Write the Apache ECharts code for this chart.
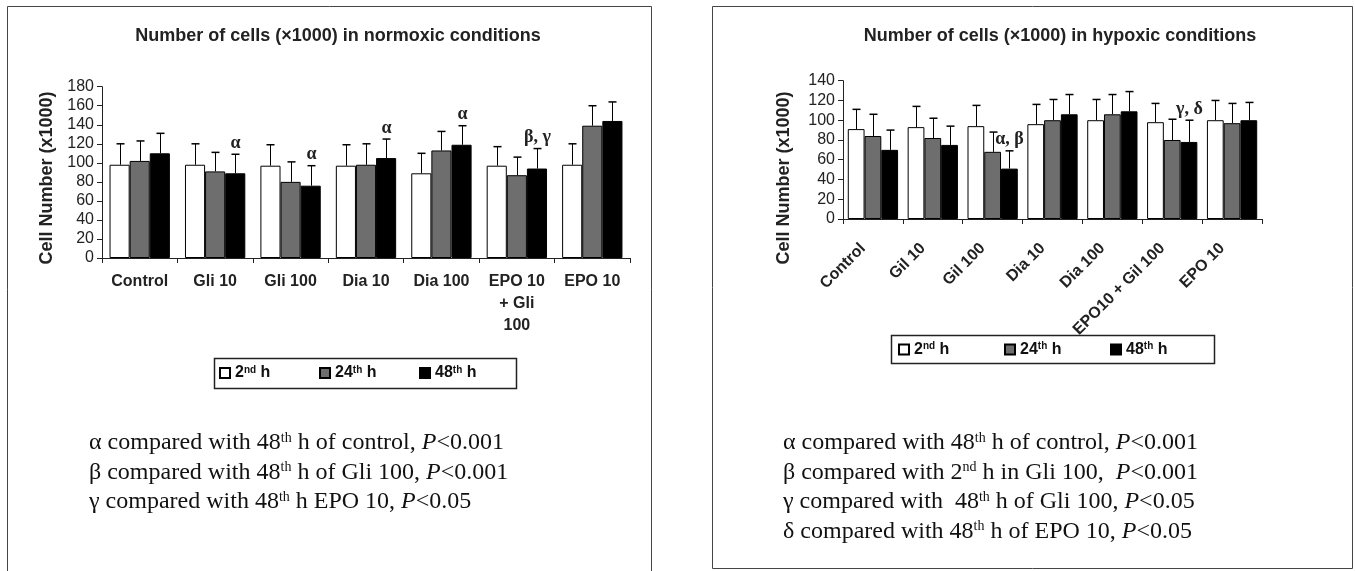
<!DOCTYPE html>
<html>
<head>
<meta charset="utf-8">
<title>Number of cells (×1000)</title>
<script src="https://cdn.jsdelivr.net/npm/echarts@6/dist/echarts.min.js"></script>
<style>
  html, body { margin: 0; padding: 0; background: #fff; }
  #chart { width: 1355px; height: 571px; }
</style>
</head>
<body>
<div id="chart"></div>
<script>
// categories on the two panels (the hypoxic panel spells it "Gil")
const normoxicCategories = ['Control', 'Gli 10', 'Gli 100', 'Dia 10', 'Dia 100', 'EPO 10\n+ Gli\n100', 'EPO 10'];
const hypoxicCategories = ['Control', 'Gil 10', 'Gil 100', 'Dia 10', 'Dia 100', 'EPO10 + Gil 100', 'EPO 10'];
const seriesNames = ['2nd h', '24th h', '48th h'];

// normoxic: mean and SD (x1000 cells)
const normoxic2h = [98, 98, 97, 97, 89, 97, 98];
const normoxic24h = [102, 91, 80, 98, 113, 87, 139];
const normoxic48h = [110, 89, 76, 105, 119, 94, 144];
const normoxic2hSD = [22, 22, 22, 22, 21, 20, 22];
const normoxic24hSD = [21, 20, 21, 22, 20, 19, 21];
const normoxic48hSD = [21, 20, 21, 20, 20, 21, 20];
const normoxicMarks = ['', 'α', 'α', 'α', 'α', 'β, γ', ''];

// hypoxic: mean and SD (x1000 cells)
const hypoxic2h = [91, 93, 94, 96, 100, 98, 100];
const hypoxic24h = [84, 82, 68, 100, 106, 80, 97];
const hypoxic48h = [70, 75, 51, 106, 109, 78, 100];
const hypoxic2hSD = [20, 21, 21, 20, 21, 19, 20];
const hypoxic24hSD = [22, 20, 20, 21, 20, 21, 20];
const hypoxic48hSD = [20, 19, 18, 20, 20, 22, 18];
const hypoxicMarks = ['', '', 'α, β', '', '', 'γ, δ', ''];

// y axis ticks: [min, max, step]
const normoxicTicks = [0, 180, 20];
const hypoxicTicks = [0, 140, 20];

const normoxicNotes = [
  'α compared with 48{sup|th} h of control, {i|P}<0.001',
  'β compared with 48{sup|th} h of Gli 100, {i|P}<0.001',
  'γ compared with 48{sup|th} h EPO 10, {i|P}<0.05'
];
const hypoxicNotes = [
  'α compared with 48{sup|th} h of control, {i|P}<0.001',
  'β compared with 2{sup|nd} h in Gli 100,  {i|P}<0.001',
  'γ compared with  48{sup|th} h of Gli 100, {i|P}<0.05',
  'δ compared with 48{sup|th} h of EPO 10, {i|P}<0.05'
];

const SANS = '"Liberation Sans", Arial, sans-serif';
const SERIF = '"Liberation Serif", "Times New Roman", serif';
const barColors = ['#ffffff', '#6e6e6e', '#000000'];

const chartInstance = echarts.init(document.getElementById('chart'));

// error bar (and significance mark) drawn over bar slot 0/1/2
const errorBars = (slot, gap, marks) => (params, api) => {
  const band = api.size([1, 0])[0];
  const barW = band * (1 - gap) / 3;
  const base = api.coord([api.value(0), api.value(1)]);
  const top = api.coord([api.value(0), api.value(1) + api.value(2)]);
  const x = Math.round(base[0] + (slot - 1) * barW) + 0.5;
  const children = [
    { type: 'line', shape: { x1: x, y1: base[1], x2: x, y2: top[1] }, style: { stroke: '#000', lineWidth: 1 } },
    { type: 'line', shape: { x1: x - 4, y1: top[1], x2: x + 4, y2: top[1] }, style: { stroke: '#000', lineWidth: 1.5 } }
  ];
  const mark = marks && marks[params.dataIndex];
  if (mark) {
    children.push({
      type: 'text', x: x, y: top[1] - 11,
      style: { text: mark, fontFamily: SERIF, fontSize: 18, fontWeight: 'bold', fill: '#222', align: 'center', verticalAlign: 'middle' }
    });
  }
  return { type: 'group', children };
};

const makeSeries = (axis, values, sds, gap, marks) => {
  const list = [];
  values.forEach((data, k) => {
    list.push({
      name: seriesNames[k], type: 'bar', xAxisIndex: axis, yAxisIndex: axis, data,
      barGap: '0%', barCategoryGap: (gap * 100) + '%',
      itemStyle: { color: barColors[k], borderColor: '#000', borderWidth: 1 }
    });
  });
  values.forEach((data, k) => {
    list.push({
      type: 'custom', xAxisIndex: axis, yAxisIndex: axis, z: 5,
      renderItem: errorBars(k, gap, k === 2 ? marks : null),
      encode: { x: 0, y: 1 },
      data: data.map((v, i) => [i, v, sds[k][i]])
    });
  });
  return list;
};

const xAxisBase = (gridIndex, data) => ({
  gridIndex, type: 'category', data,
  axisLine: { show: true, lineStyle: { color: '#222', width: 1 } },
  axisTick: { show: true, length: 5, lineStyle: { color: '#222' } },
  splitLine: { show: false }
});

const yAxisBase = (gridIndex, ticks) => ({
  gridIndex, type: 'value', min: ticks[0], max: ticks[1], interval: ticks[2],
  axisLine: { show: true, lineStyle: { color: '#222', width: 1 } },
  axisTick: { show: true, length: 5, lineStyle: { color: '#222' } },
  splitLine: { show: false },
  axisLabel: { fontFamily: SANS, fontSize: 16, color: '#222', margin: 8 }
});

const legendBase = (left, top, width) => ({
  left, top, orient: 'horizontal', padding: 0, selectedMode: false,
  data: seriesNames, icon: 'rect', itemWidth: 10, itemHeight: 10, itemGap: 14,
  formatter: name => name.replace(/(\d+)(nd|th)/, '$1{sup|$2}'),
  textStyle: {
    fontFamily: SANS, fontSize: 16, fontWeight: 'bold', color: '#111', lineHeight: 16, width,
    rich: { sup: { fontFamily: SANS, fontSize: 10, fontWeight: 'bold', lineHeight: 10, verticalAlign: 'top', color: '#111' } }
  }
});

const noteText = (x, y, text) => ({
  type: 'text', x, y,
  style: {
    text, fontFamily: SERIF, fontSize: 24, fill: '#111', align: 'left', verticalAlign: 'middle',
    rich: {
      sup: { fontFamily: SERIF, fontSize: 14, lineHeight: 16, verticalAlign: 'top', fill: '#111' },
      i: { fontFamily: SERIF, fontSize: 24, fontStyle: 'italic', fill: '#111' }
    }
  }
});

const plainText = (x, y, text, size, rotation) => ({
  type: 'text', x, y, rotation: rotation || 0,
  style: { text, fontFamily: SANS, fontSize: size, fontWeight: 'bold', fill: '#222', align: 'center', verticalAlign: 'middle' }
});

const option = {
  animation: false,
  backgroundColor: '#fff',
  grid: [
    { left: 102, top: 86.7, width: 528, height: 171.3, outerBoundsMode: 'none' },
    { left: 843, top: 80.7, width: 419, height: 138.3, outerBoundsMode: 'none' }
  ],
  xAxis: [
    Object.assign(xAxisBase(0, normoxicCategories), {
      axisLabel: { interval: 0, fontFamily: SANS, fontSize: 16, fontWeight: 'bold', color: '#222', lineHeight: 22, margin: 13 }
    }),
    Object.assign(xAxisBase(1, hypoxicCategories), {
      axisLabel: { interval: 0, rotate: 45, fontFamily: SANS, fontSize: 16, fontWeight: 'bold', color: '#222', margin: 17, padding: [0, 14, 0, 0] }
    })
  ],
  yAxis: [yAxisBase(0, normoxicTicks), yAxisBase(1, hypoxicTicks)],
  legend: [legendBase(219, 365, 70), legendBase(898, 341.5, 76)],
  series: [
    ...makeSeries(0, [normoxic2h, normoxic24h, normoxic48h], [normoxic2hSD, normoxic24hSD, normoxic48hSD], 0.2, normoxicMarks),
    ...makeSeries(1, [hypoxic2h, hypoxic24h, hypoxic48h], [hypoxic2hSD, hypoxic24hSD, hypoxic48hSD], 0.16, hypoxicMarks)
  ],
  graphic: [
    // panel frames
    { type: 'rect', shape: { x: 7.5, y: 6.5, width: 644, height: 600 }, style: { fill: 'none', stroke: '#444', lineWidth: 1 } },
    { type: 'rect', shape: { x: 712.5, y: 6.5, width: 640, height: 562 }, style: { fill: 'none', stroke: '#444', lineWidth: 1 } },
    // legend frames
    { type: 'rect', shape: { x: 214.5, y: 358.5, width: 302, height: 30 }, style: { fill: 'none', stroke: '#222', lineWidth: 1.5 } },
    { type: 'rect', shape: { x: 891.5, y: 335.5, width: 323, height: 28 }, style: { fill: 'none', stroke: '#222', lineWidth: 1.5 } },
    // titles
    plainText(338, 36, 'Number of cells (×1000) in normoxic conditions', 18),
    plainText(1060, 36, 'Number of cells (×1000) in hypoxic conditions', 18),
    // y axis names
    plainText(47, 178, 'Cell Number (x1000)', 18, Math.PI / 2),
    plainText(784, 178, 'Cell Number (x1000)', 18, Math.PI / 2),
    // footnotes
    ...normoxicNotes.map((t, i) => noteText(89, 443 + i * 29.5, t)),
    ...hypoxicNotes.map((t, i) => noteText(783, 443 + i * 29.5, t))
  ]
};

chartInstance.setOption(option);

window.addEventListener('resize', () => {
  chartInstance.resize();
});
</script>
</body>
</html>
